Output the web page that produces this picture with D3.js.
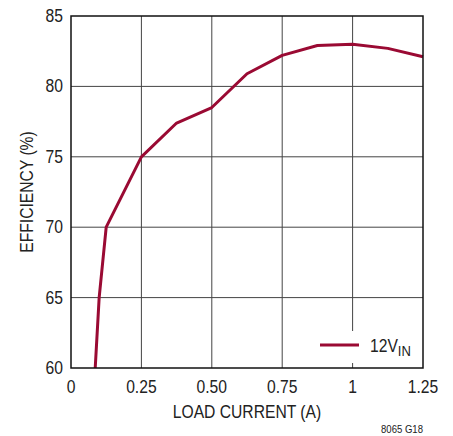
<!DOCTYPE html>
<html>
<head>
<meta charset="utf-8">
<script src="https://cdn.jsdelivr.net/npm/d3@7"></script>
<style>
  body { margin: 0; background: #fff; }
  svg text { font-family: "Liberation Sans", Arial, sans-serif; fill: #222; }
</style>
</head>
<body>
<div id="chart"></div>
<script>
// load current (A) vs efficiency (%)
var loadCurrent = [0.086, 0.1, 0.125, 0.25, 0.375, 0.5, 0.625, 0.75, 0.875, 1.0, 1.125, 1.25]
var efficiency = [60, 65, 70, 75, 77.4, 78.5, 80.9, 82.2, 82.9, 83.0, 82.7, 82.1]
var xTicks = [0, 0.25, 0.5, 0.75, 1, 1.25]
var xTickLabels = ["0", "0.25", "0.50", "0.75", "1", "1.25"]
var yTicks = [60, 65, 70, 75, 80, 85]
var seriesName = "12V"
var seriesSub = "IN"

var w = 453
var h = 436
var padL = 71, padR = 423, padT = 16, padB = 368
var lineColor = "#9a0a33"
var narrow = 0.87

var svg = d3.select('#chart').append('svg')
    .attr('width', w)
    .attr('height', h)

var x = d3.scaleLinear().domain([0, 1.25]).range([padL, padR])
var y = d3.scaleLinear().domain([60, 85]).range([padB, padT])

// condensed-looking text: squeeze horizontally around the anchor
function place(sel, fx, fy, rot){
    sel.attr('transform', function(d,i){
        var px = typeof fx == 'function' ? fx(d,i) : fx
        var py = typeof fy == 'function' ? fy(d,i) : fy
        return 'translate(' + px + ',' + py + ')' + (rot ? ' rotate(' + rot + ')' : '') + ' scale(' + narrow + ',1)'
    })
    return sel
}

// grid
svg.selectAll('line.vgrid')
    .data(xTicks.slice(1, -1))
    .enter()
    .append('line')
    .attr('x1', function(d){return x(d)})
    .attr('x2', function(d){return x(d)})
    .attr('y1', padT)
    .attr('y2', padB)
    .attr('stroke', '#444')
    .attr('stroke-width', 1)

svg.selectAll('line.hgrid')
    .data(yTicks.slice(1, -1))
    .enter()
    .append('line')
    .attr('x1', padL)
    .attr('x2', padR)
    .attr('y1', function(d){return y(d)})
    .attr('y2', function(d){return y(d)})
    .attr('stroke', '#444')
    .attr('stroke-width', 1)

// legend background knocks out grid line
svg.append('rect')
    .attr('x', 315)
    .attr('y', 331)
    .attr('width', 106)
    .attr('height', 32)
    .attr('fill', '#fff')

// curve
var line = d3.line()
    .x(function(d){return x(d[0])})
    .y(function(d){return y(d[1])})

svg.append('path')
    .datum(d3.zip(loadCurrent, efficiency))
    .attr('d', line)
    .attr('fill', 'none')
    .attr('stroke', lineColor)
    .attr('stroke-width', 3)
    .attr('stroke-linejoin', 'round')

// frame
svg.append('rect')
    .attr('x', padL)
    .attr('y', padT)
    .attr('width', padR - padL)
    .attr('height', padB - padT)
    .attr('fill', 'none')
    .attr('stroke', '#111')
    .attr('stroke-width', 1.5)

// tick labels
place(svg.selectAll('text.xtick')
    .data(xTicks)
    .enter()
    .append('text')
    .attr('text-anchor', 'middle')
    .attr('font-size', 18)
    .text(function(d,i){return xTickLabels[i]}), function(d){return x(d)}, 393)

place(svg.selectAll('text.ytick')
    .data(yTicks)
    .enter()
    .append('text')
    .attr('text-anchor', 'end')
    .attr('font-size', 18)
    .text(function(d){return d}), 63, function(d){return y(d) + 6})

// axis titles
place(svg.append('text')
    .attr('text-anchor', 'middle')
    .attr('font-size', 18)
    .text('LOAD CURRENT (A)'), (padL + padR) / 2, 418)

place(svg.append('text')
    .attr('text-anchor', 'middle')
    .attr('font-size', 18)
    .text('EFFICIENCY (%)'), 33, (padT + padB) / 2, -90)

// legend
svg.append('line')
    .attr('x1', 320)
    .attr('x2', 359)
    .attr('y1', 345)
    .attr('y2', 345)
    .attr('stroke', lineColor)
    .attr('stroke-width', 3)

var lt = place(svg.append('text')
    .attr('font-size', 18), 370, 352)
lt.append('tspan').text(seriesName)
lt.append('tspan').attr('font-size', 15).attr('dy', 4).text(seriesSub)

place(svg.append('text')
    .attr('text-anchor', 'end')
    .attr('font-size', 11)
    .text('8065 G18'), 423, 433)
</script>
</body>
</html>
